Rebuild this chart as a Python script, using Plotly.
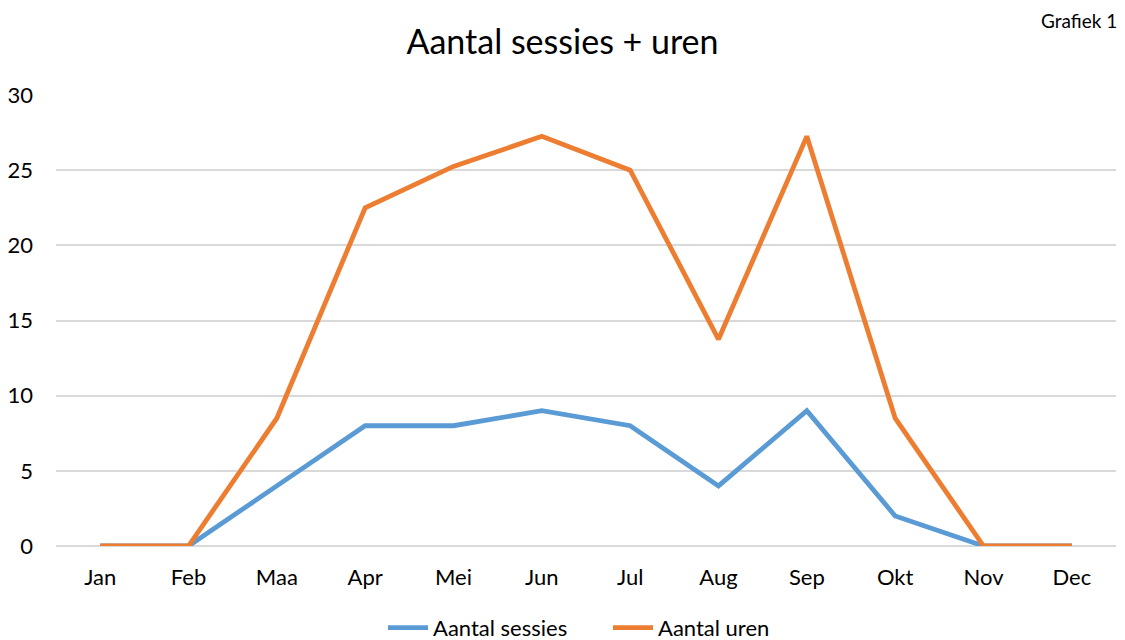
import plotly.graph_objects as go

months = ["Jan", "Feb", "Maa", "Apr", "Mei", "Jun", "Jul", "Aug", "Sep", "Okt", "Nov", "Dec"]
sessies = [0, 0, 4, 8, 8, 9, 8, 4, 9, 2, 0, 0]
uren = [0, 0, 8.5, 22.5, 25.25, 27.25, 25, 13.75, 27.25, 8.5, 0, 0]
y_ticks = [0, 5, 10, 15, 20, 25, 30]

FONT = "Lato"

fig = go.Figure()
fig.add_trace(go.Scatter(x=months, y=sessies, mode="lines", name="Aantal sessies",
                         line=dict(color="#5B9BD5", width=4.8)))
fig.add_trace(go.Scatter(x=months, y=uren, mode="lines", name="Aantal uren",
                         line=dict(color="#ED7D31", width=4.8)))

fig.update_layout(
    width=1125, height=640,
    margin=dict(l=56, r=9, t=95, b=94, autoexpand=False),
    paper_bgcolor="white", plot_bgcolor="white",
    font=dict(family=FONT, color="#000000", size=22),
    title=dict(text="Aantal sessies + uren", x=0.5, xanchor="center", y=0.934, yanchor="middle",
               font=dict(family=FONT, size=34, color="#000000")),
    showlegend=True,
    legend=dict(orientation="h", xref="container", x=(388 - 5) / 1125, xanchor="left",
                yref="container", y=0.019, yanchor="middle",
                font=dict(family=FONT, size=22), itemwidth=40, tracegroupgap=0,
                entrywidth=170, entrywidthmode="pixels"),
    annotations=[dict(text="Grafiek 1", xref="paper", yref="paper", x=1.0, y=1.166,
                      xanchor="right", yanchor="middle", showarrow=False, xshift=3,
                      font=dict(family=FONT, size=19))],
)
fig.update_xaxes(type="category", showgrid=False, showline=False, ticks="",
                 tickfont=dict(size=22), range=[-0.5, 11.5], ticklabelstandoff=16,
                 automargin=False)
fig.update_yaxes(range=[0, 30], tickvals=y_ticks, showgrid=True, gridcolor="#d9d9d9",
                 gridwidth=1.5, zeroline=True, zerolinecolor="#d9d9d9", zerolinewidth=1.5,
                 showline=False, ticks="", tickfont=dict(size=22), ticklabelstandoff=22,
                 automargin=False)

fig.write_html("out.html", config={"displayModeBar": False})

with open("out.html", "r", encoding="utf-8") as f:
    html = f.read()
html = html.replace("<body>", '<body style="margin:0;padding:0;">', 1)
with open("out.html", "w", encoding="utf-8") as f:
    f.write(html)
